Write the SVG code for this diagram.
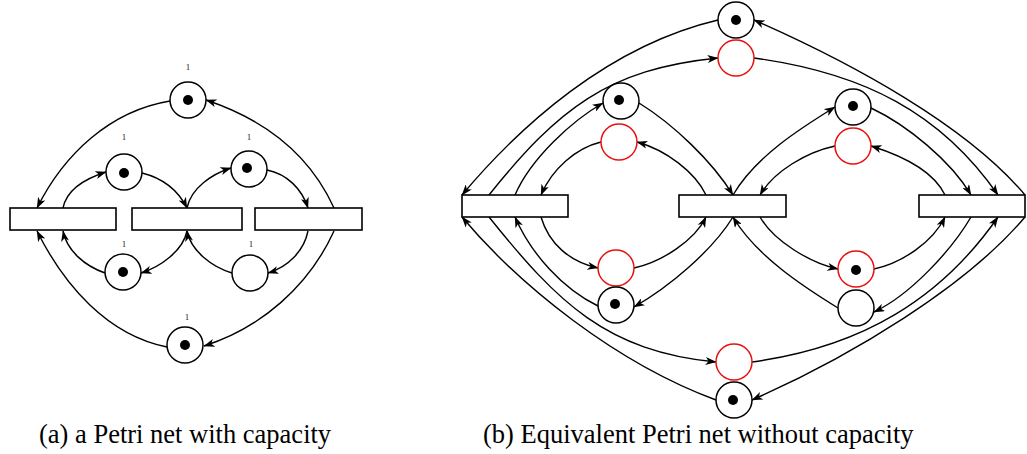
<svg xmlns="http://www.w3.org/2000/svg" width="1027" height="454" viewBox="0 0 1027 454">
  <style>
    .place { fill: #fff; stroke: #000; stroke-width: 1.5; }
    .place.cap { stroke: #e8110f; }
    .token { fill: #000; }
    .trans { fill: #fff; stroke: #000; stroke-width: 1.6; }
    .arc { fill: none; stroke: #000; stroke-width: 1.4; marker-end: url(#arrow); }
    .cap-label { font-family: "Liberation Serif", "Times New Roman", serif; font-size: 9px; fill: #222; text-anchor: middle; }
    .caption { font-family: "Liberation Serif", "Times New Roman", serif; font-size: 26.5px; fill: #000; }
  </style>
  <defs>
    <marker id="arrow" viewBox="0 0 11 8" refX="10.5" refY="4" markerWidth="11" markerHeight="8" markerUnits="userSpaceOnUse" orient="auto">
      <path d="M0,0 L11,4 L0,8 L3,4 z" fill="#000"/>
    </marker>
  </defs>
  <rect width="1027" height="454" fill="#fff"/>

  <!-- (a) net with capacities -->
  <g id="a-connectors">
    <path class="arc" d="M170,101 C110,111 64,154 37,208"/>
    <path class="arc" d="M334,208 C309,153 263,119 206,100"/>
    <path class="arc" d="M63,208 C67,188 87,178 106,172"/>
    <path class="arc" d="M142,173 C162,178 178,190 187,208"/>
    <path class="arc" d="M187,208 C191,188 212,174 231,168"/>
    <path class="arc" d="M267,170 C287,174 302,189 308,208"/>
    <path class="arc" d="M167,347 C107,335 64,285 37,231"/>
    <path class="arc" d="M334,231 C309,286 261,328 204,346"/>
    <path class="arc" d="M105,273 C85,266 67,251 63,231"/>
    <path class="arc" d="M187,231 C183,251 160,267 141,273"/>
    <path class="arc" d="M232,273 C212,267 191,251 187,231"/>
    <path class="arc" d="M308,231 C304,251 288,267 268,273"/>
  </g>
  <g id="a-t1"><rect class="trans" x="10" y="208" width="106" height="22"/></g>
  <g id="a-t2"><rect class="trans" x="132" y="208" width="110" height="22"/></g>
  <g id="a-t3"><rect class="trans" x="255" y="208" width="107" height="22"/></g>
  <g id="a-p-top"><circle class="place" cx="188" cy="100" r="18"/><circle class="token" cx="188" cy="100" r="5"/><text class="cap-label" x="188" y="70">1</text></g>
  <g id="a-p-ul"><circle class="place" cx="124" cy="172" r="18"/><circle class="token" cx="124" cy="173" r="5"/><text class="cap-label" x="124" y="140">1</text></g>
  <g id="a-p-ur"><circle class="place" cx="249" cy="169" r="18"/><circle class="token" cx="247" cy="168" r="5"/><text class="cap-label" x="249" y="140">1</text></g>
  <g id="a-p-ll"><circle class="place" cx="123" cy="272" r="18"/><circle class="token" cx="123" cy="272" r="5"/><text class="cap-label" x="124" y="247">1</text></g>
  <g id="a-p-lr"><circle class="place" cx="250" cy="273" r="18"/><text class="cap-label" x="251" y="247">1</text></g>
  <g id="a-p-bottom"><circle class="place" cx="185" cy="345" r="18"/><circle class="token" cx="185" cy="345" r="5"/><text class="cap-label" x="187" y="320">1</text></g>

  <!-- (b) equivalent net with complementary places -->
  <g id="b-connectors">
    <path class="arc" d="M718,20 C608,46 520,126 462,195"/>
    <path class="arc" d="M489,195 C558,109 608,69 718,58"/>
    <path class="arc" d="M1025,195 C967,126 854,64 754,20"/>
    <path class="arc" d="M754,58 C864,73 941,113 998,195"/>
    <path class="arc" d="M515,195 C531,158 573,120 603,103"/>
    <path class="arc" d="M639,103 C673,124 712,161 733,195"/>
    <path class="arc" d="M706,195 C695,172 666,150 637,142"/>
    <path class="arc" d="M601,142 C576,148 552,169 541,195"/>
    <path class="arc" d="M733,195 C756,156 801,128 835,107"/>
    <path class="arc" d="M871,108 C907,125 951,161 971,195"/>
    <path class="arc" d="M945,195 C933,170 900,155 871,146"/>
    <path class="arc" d="M835,146 C807,152 774,171 760,195"/>
    <path class="arc" d="M541,217 C549,244 570,262 598,268"/>
    <path class="arc" d="M634,268 C662,262 695,240 706,217"/>
    <path class="arc" d="M733,217 C712,251 669,287 634,307"/>
    <path class="arc" d="M598,306 C563,289 531,254 515,217"/>
    <path class="arc" d="M760,217 C774,241 810,263 838,269"/>
    <path class="arc" d="M874,269 C902,263 933,242 945,217"/>
    <path class="arc" d="M971,217 C951,251 910,295 874,312"/>
    <path class="arc" d="M838,308 C804,287 756,256 733,217"/>
    <path class="arc" d="M489,217 C558,303 606,351 716,362"/>
    <path class="arc" d="M752,362 C862,347 941,299 998,217"/>
    <path class="arc" d="M1025,217 C967,286 852,356 752,400"/>
    <path class="arc" d="M716,400 C616,363 520,286 462,217"/>
  </g>
  <g id="b-t1"><rect class="trans" x="462" y="195" width="106" height="22"/></g>
  <g id="b-t2"><rect class="trans" x="679" y="195" width="107" height="22"/></g>
  <g id="b-t3"><rect class="trans" x="919" y="195" width="106" height="22"/></g>
  <g id="b-p-top"><circle class="place" cx="736" cy="20" r="18"/><circle class="token" cx="736" cy="20" r="5"/></g>
  <g id="b-p-top-c"><circle class="place cap" cx="736" cy="58" r="18"/></g>
  <g id="b-p-ul"><circle class="place" cx="621" cy="101" r="18"/><circle class="token" cx="619" cy="100" r="5"/></g>
  <g id="b-p-ul-c"><circle class="place cap" cx="619" cy="142" r="18"/></g>
  <g id="b-p-ur"><circle class="place" cx="853" cy="107" r="18"/><circle class="token" cx="853" cy="106" r="5"/></g>
  <g id="b-p-ur-c"><circle class="place cap" cx="853" cy="146" r="18"/></g>
  <g id="b-p-ll-c"><circle class="place cap" cx="616" cy="268" r="18"/></g>
  <g id="b-p-ll"><circle class="place" cx="616" cy="305" r="18"/><circle class="token" cx="615" cy="304" r="5"/></g>
  <g id="b-p-lr-c"><circle class="place cap" cx="856" cy="269" r="18"/><circle class="token" cx="856" cy="270" r="5"/></g>
  <g id="b-p-lr"><circle class="place" cx="856" cy="308" r="18"/></g>
  <g id="b-p-bottom-c"><circle class="place cap" cx="734" cy="362" r="18"/></g>
  <g id="b-p-bottom"><circle class="place" cx="734" cy="400" r="18"/><circle class="token" cx="733" cy="400" r="5"/></g>

  <!-- captions -->
  <text class="caption" x="39" y="443">(a) a Petri net with capacity</text>
  <text class="caption" x="483" y="443">(b) Equivalent Petri net without capacity</text>
</svg>
